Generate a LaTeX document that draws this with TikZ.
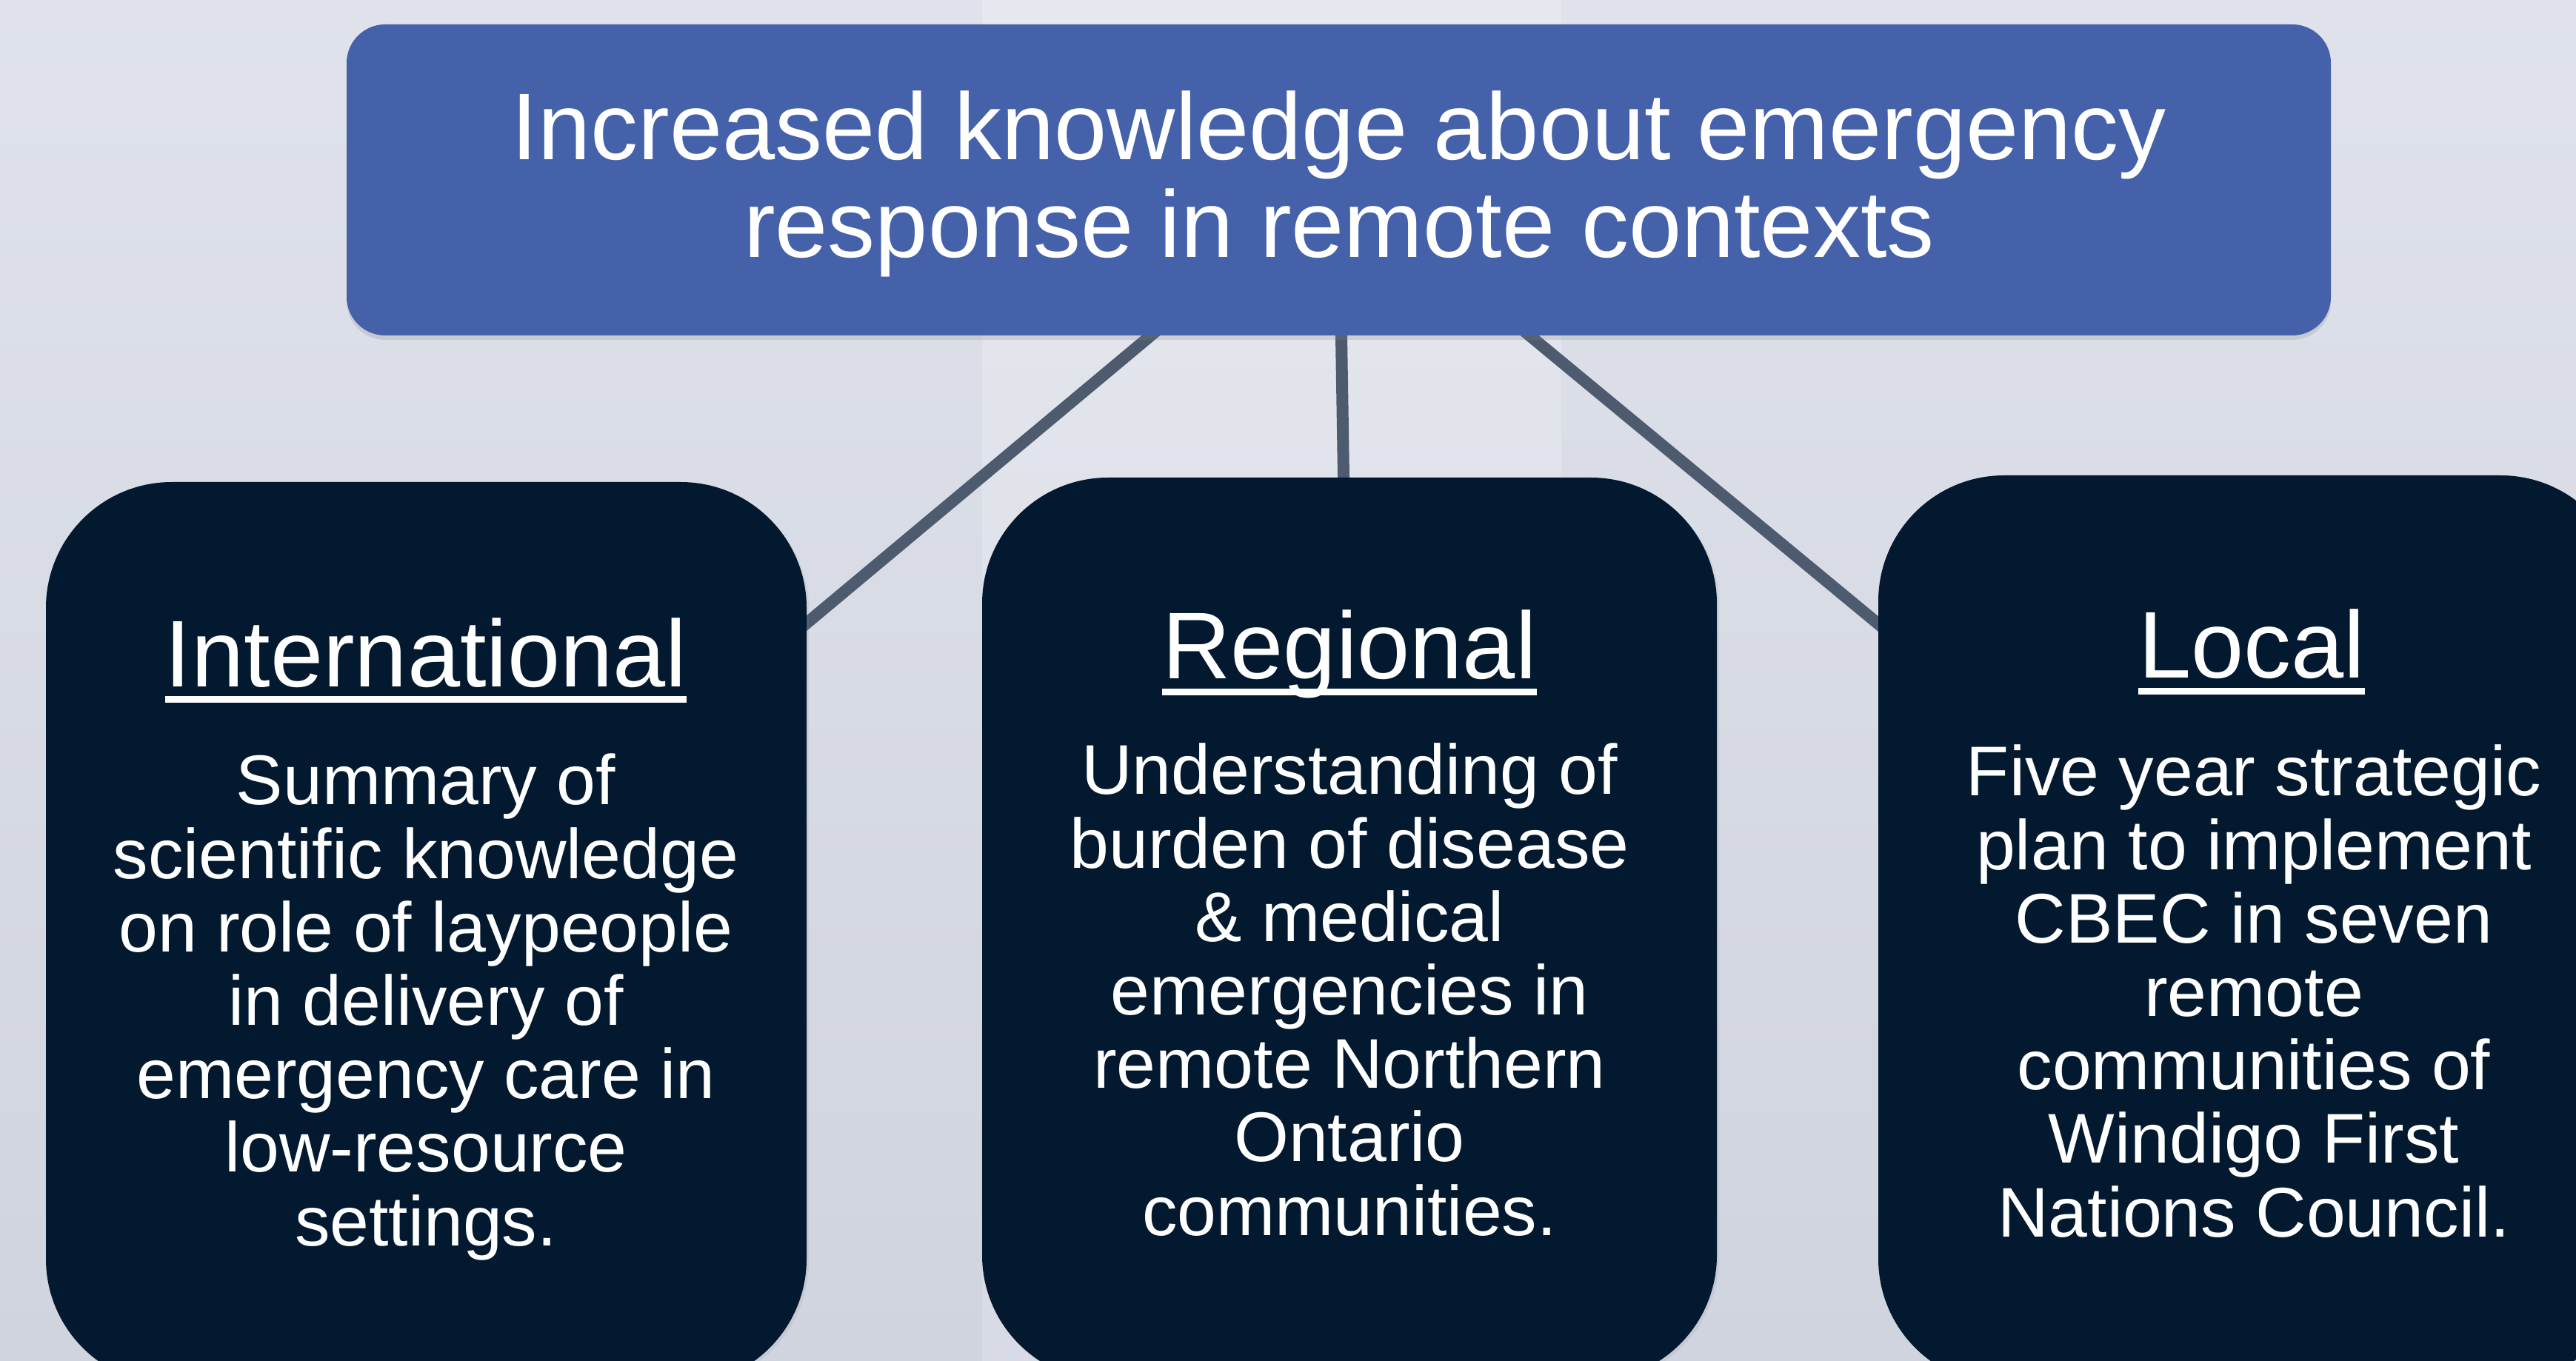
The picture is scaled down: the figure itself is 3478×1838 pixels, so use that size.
\documentclass[tikz,border=0pt]{standalone}
\usepackage{fontspec}
\setmainfont{Liberation Sans}
\usetikzlibrary{calc,shadows}

\definecolor{bgtop}{HTML}{DFE2EA}
\definecolor{bgbot}{HTML}{D0D4DF}
\definecolor{bandtop}{HTML}{E6E8EF}
\definecolor{bandbot}{HTML}{D8DBE5}
\definecolor{topblue}{HTML}{4461AA}
\definecolor{navy}{HTML}{02192F}
\definecolor{connector}{HTML}{4E5B6F}

% heading with a heavy underline that crosses the descenders
\newcommand\headline[1]{\setbox0\hbox{#1}\rlap{\rule[-5.4pt]{\wd0}{2.2pt}}\box0}

\pgfdeclarelayer{bg}
\pgfdeclarelayer{lines}
\pgfsetlayers{bg,lines,main}

\begin{document}
\begin{tikzpicture}[x=0.25pt,y=-0.25pt,
  topbox/.style={rectangle, rounded corners=13pt, fill=topblue, inner sep=0pt,
    minimum width=669.75pt, minimum height=105pt,
    drop shadow={opacity=0.22, shadow xshift=0pt, shadow yshift=-1.5pt}},
  levelbox/.style={rectangle, rounded corners=42.5pt, fill=navy, inner sep=0pt,
    drop shadow={opacity=0.12, shadow xshift=0.8pt, shadow yshift=-0.8pt}},
  conn/.style={draw=connector, line width=4pt, shorten <=-8pt, shorten >=-8pt},
  toptext/.style={text=white, font=\fontsize{32}{33}\selectfont, align=center, inner sep=0pt, anchor=base},
  headtext/.style={text=white, font=\fontsize{32}{33}\selectfont, inner sep=0pt, anchor=base},
  bodytext/.style={text=white, font=\fontsize{23.75}{24.8}\selectfont, align=center, inner sep=0pt, anchor=base}]

\useasboundingbox (0,0) rectangle (3478,1838);
\clip (0,0) rectangle (3478,1838);

% backdrop with a lighter central band
\begin{pgfonlayer}{bg}
  \shade[top color=bgtop, bottom color=bgbot] (0,0) rectangle (3478,1838);
  \shade[top color=bandtop, bottom color=bandbot] (1326,0) rectangle (2108,1838);
\end{pgfonlayer}

% boxes
\node[topbox] (goal) at (1807.5,243) {};
\node[levelbox, minimum width=256.75pt, minimum height=304.75pt] (intl) at (575.5,1260.5) {};
\node[levelbox, minimum width=248pt, minimum height=305pt] (reg) at (1822,1255) {};
\node[levelbox, minimum width=252.5pt, minimum height=307pt] (loc) at (3041,1256) {};

% connectors
\begin{pgfonlayer}{lines}
  \draw[conn] ($(goal.south)+(-254.5,0)$) -- ($(intl.east)+(0,-419.5)$);
  \draw[conn] ($(goal.south)+(3.5,0)$) -- ($(reg.north)+(-8,0)$);
  \draw[conn] ($(goal.south)+(258.5,0)$) -- ($(loc.west)+(0,-414)$);
\end{pgfonlayer}

% texts (a multi-line node sits on the baseline of its last line)
\node[toptext] (goaltxt) at (1808,348) {Increased knowledge about emergency\\response in remote contexts};

\node[headtext] (intlhead) at (575,927) {\headline{International}};
\node[bodytext] (intlbody) at (575,1682) {Summary of\\scientific knowledge\\on role of laypeople\\in delivery of\\emergency care in\\low-resource\\settings.};

\node[headtext] (reghead) at (1822,917) {\headline{Regional}};
\node[bodytext] (regbody) at (1822,1668) {Understanding of\\burden of disease\\\& medical\\emergencies in\\remote Northern\\Ontario\\communities.};

\node[headtext] (lochead) at (3040,916) {\headline{Local}};
\node[bodytext] (locbody) at (3043,1670) {Five year strategic\\plan to implement\\CBEC in seven\\remote\\communities of\\Windigo First\\Nations Council.};

\end{tikzpicture}
\end{document}
